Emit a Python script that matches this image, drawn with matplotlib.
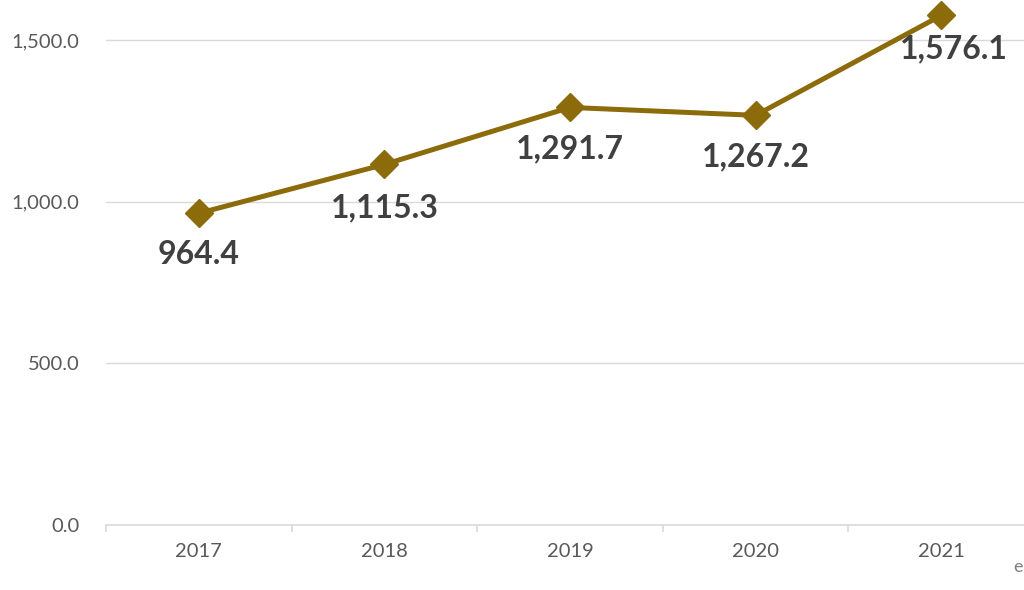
import matplotlib
matplotlib.use("Agg")
from matplotlib import pyplot as plt
from matplotlib.ticker import FuncFormatter

years = ["2017", "2018", "2019", "2020", "2021"]
values = [964.4, 1115.3, 1291.7, 1267.2, 1576.1]
label_offsets = [(0, -30), (0, -31), (0, -30), (0, -30), (9, -24)]

line_color = "#8C6B0B"
label_color = "#404040"
axis_color = "#595959"
grid_color = "#D9D9D9"

plt.rcParams["font.family"] = ["Lato", "DejaVu Sans"]

fig = plt.figure(figsize=(10.24, 5.9), dpi=100)
ax = fig.add_axes([106 / 1024, 65 / 590, 928 / 1024, 525 / 590])

x = list(range(len(years)))
ax.plot(x, values, color=line_color, lw=3.6, marker="D", markersize=14,
        solid_capstyle="round", zorder=3, clip_on=False)

for xi, v, off in zip(x, values, label_offsets):
    ax.annotate(f"{v:,.1f}", (xi, v), xytext=off, textcoords="offset points",
                ha="center", va="center", fontsize=23, fontweight="bold",
                color=label_color)

ax.set_xlim(-0.5, len(years) - 0.5)
ax.set_ylim(0, 1624)
ax.set_yticks([0, 500, 1000, 1500])
ax.yaxis.set_major_formatter(FuncFormatter(lambda v, p: f"{v:,.1f}"))
ax.set_xticks(x)
ax.set_xticklabels(years)
ax.set_xticks([i - 0.5 for i in range(len(years) + 1)], minor=True)

ax.grid(axis="y", color=grid_color, lw=1)
ax.set_axisbelow(True)
for side in ["left", "right", "top"]:
    ax.spines[side].set_visible(False)
ax.spines["bottom"].set_color(grid_color)
ax.spines["bottom"].set_linewidth(1.2)

ax.tick_params(axis="y", length=0, pad=19, labelsize=14.5, labelcolor=axis_color)
ax.tick_params(axis="x", which="major", length=0, pad=13, labelsize=14.5,
               labelcolor=axis_color)
ax.tick_params(axis="x", which="minor", length=5, color=grid_color, width=1.2)

fig.text(1013 / 1024, 1 - 567 / 590, "e", color="#7F7F7F", fontsize=13,
         ha="left", va="center")

fig.savefig("out.png", dpi=100)
